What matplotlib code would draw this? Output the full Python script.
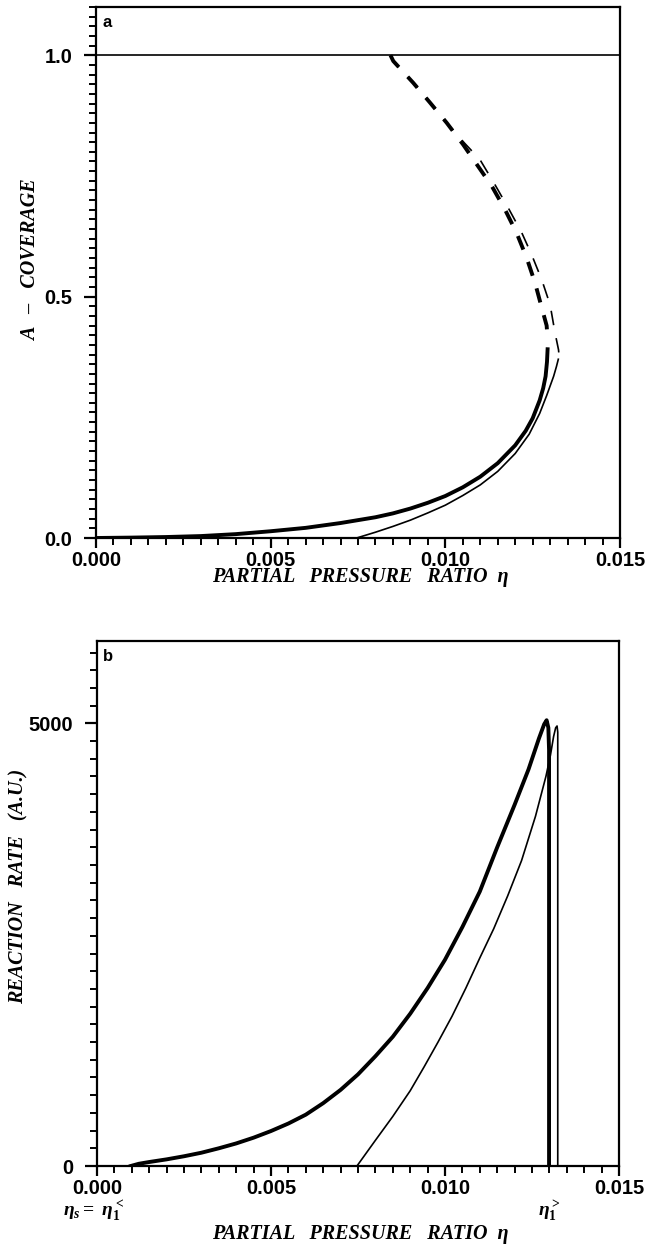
import matplotlib
matplotlib.use("Agg")
import matplotlib.pyplot as plt
from matplotlib.ticker import MultipleLocator

# ---------------- data ----------------
# panel a: A-coverage vs partial pressure ratio
a_thick_solid_x = [0.0, 0.0010, 0.0020, 0.0030, 0.0040, 0.0050, 0.0060, 0.0070, 0.0080, 0.0085,
                   0.0090, 0.0095, 0.0100, 0.0105, 0.0110, 0.0115, 0.0120, 0.0123, 0.0125,
                   0.0127, 0.0128, 0.01287, 0.01291, 0.01293]
a_thick_solid_y = [0.0, 0.0008, 0.002, 0.004, 0.008, 0.014, 0.021, 0.031, 0.043, 0.051,
                   0.061, 0.073, 0.087, 0.105, 0.127, 0.155, 0.192, 0.222, 0.248,
                   0.285, 0.310, 0.335, 0.365, 0.395]
a_thick_dash_x = [0.00843, 0.00851, 0.00908, 0.00956, 0.01004, 0.01051, 0.01090, 0.01133, 0.01171,
                  0.01204, 0.01233, 0.01257, 0.01276, 0.01290, 0.01293]
a_thick_dash_y = [1.0, 0.988, 0.943, 0.902, 0.860, 0.815, 0.774, 0.729, 0.680,
                  0.632, 0.580, 0.528, 0.477, 0.440, 0.410]
a_thin_solid_x = [0.00746, 0.0080, 0.0085, 0.0090, 0.0095, 0.0100, 0.0105, 0.0110, 0.0115,
                  0.0120, 0.0124, 0.0127, 0.0129, 0.0131, 0.01318, 0.01324]
a_thin_solid_y = [0.0, 0.012, 0.024, 0.037, 0.052, 0.068, 0.088, 0.110, 0.138,
                  0.175, 0.215, 0.258, 0.295, 0.335, 0.355, 0.372]
a_thin_dash_x = [0.00843, 0.00851, 0.00908, 0.00956, 0.01004, 0.01055, 0.01099, 0.01142, 0.01180,
                 0.01219, 0.01247, 0.01276, 0.01300, 0.01314, 0.01324, 0.01326]
a_thin_dash_y = [1.0, 0.988, 0.943, 0.902, 0.860, 0.818, 0.784, 0.732, 0.684,
                 0.632, 0.587, 0.535, 0.483, 0.425, 0.390, 0.375]
a_limit_y = 1.0

# panel b: reaction rate vs partial pressure ratio
b_thick_x = [0.00097, 0.0012, 0.0015, 0.0020, 0.0025, 0.0030, 0.0035, 0.0040, 0.0045, 0.0050,
             0.0055, 0.0060, 0.0065, 0.0070, 0.0075, 0.0080, 0.0085, 0.0090, 0.0095, 0.0100,
             0.0105, 0.0110, 0.0115, 0.0120, 0.0124, 0.0127, 0.01285, 0.01292, 0.01297,
             0.01299, 0.01299]
b_thick_y = [0, 25, 45, 75, 110, 150, 200, 255, 320, 395,
             480, 580, 710, 860, 1035, 1240, 1460, 1720, 2010, 2330,
             2700, 3100, 3600, 4080, 4480, 4830, 4990, 5035, 4950,
             4700, 0]
b_thin_x = [0.00747, 0.0080, 0.0085, 0.0090, 0.0094, 0.0098, 0.0102, 0.0106, 0.0110, 0.0114,
            0.0118, 0.0122, 0.0126, 0.0129, 0.01303, 0.01312, 0.01318, 0.01322, 0.01324,
            0.01324]
b_thin_y = [0, 290, 560, 850, 1120, 1400, 1690, 2010, 2350, 2680,
            3050, 3450, 3950, 4400, 4640, 4850, 4950, 4970, 4900,
            0]

x_ticks = [0.000, 0.005, 0.010, 0.015]
x_tick_labels = ["0.000", "0.005", "0.010", "0.015"]
a_y_ticks = [0.0, 0.5, 1.0]
a_y_tick_labels = ["0.0", "0.5", "1.0"]
b_y_ticks = [0, 5000]
b_y_tick_labels = ["0", "5000"]

# ---------------- style ----------------
plt.rcParams['lines.scale_dashes'] = False
plt.rcParams['mathtext.fontset'] = 'custom'
plt.rcParams['mathtext.it'] = 'Liberation Serif:italic:bold'
plt.rcParams['mathtext.rm'] = 'Liberation Serif:bold'
plt.rcParams['mathtext.bf'] = 'Liberation Serif:bold'

TICKFONT = dict(family='Liberation Sans', weight='bold', size=14.5)
LABELFONT = dict(family='Liberation Serif', weight='bold', style='italic', size=14.5)
THICK = 2.8
THIN = 1.2
DASH = (0, (10.5, 9.5))

fig = plt.figure(figsize=(6.45, 12.5), dpi=100)
W, H = 645.0, 1250.0

def axes_px(l, t, r, b):
    return fig.add_axes([l / W, 1 - b / H, (r - l) / W, (b - t) / H])

def style_axes(ax, xminor, yminor):
    for s in ax.spines.values():
        s.set_linewidth(1.6)
    ax.tick_params(axis='both', which='major', direction='out', length=7, width=1.6,
                   top=False, right=False, pad=2)
    ax.tick_params(axis='both', which='minor', direction='out', length=5, width=1.4,
                   top=False, right=False)
    ax.xaxis.set_minor_locator(MultipleLocator(xminor))
    ax.yaxis.set_minor_locator(MultipleLocator(yminor))
    ax.set_xticks(x_ticks)
    ax.set_xticklabels(x_tick_labels, **TICKFONT)
    ax.tick_params(axis='y', which='major', length=9, pad=8)

# ---------------- panel a ----------------
ax1 = axes_px(96, 7, 620, 538)
ax1.set_xlim(0, 0.015)
ax1.set_ylim(0, 1.1)
ax1.axhline(a_limit_y, color='black', lw=1.2)
ax1.plot(a_thin_dash_x, a_thin_dash_y, color='black', lw=THIN, linestyle=DASH,
         dash_capstyle='butt')
ax1.plot(a_thick_dash_x, a_thick_dash_y, color='black', lw=THICK, linestyle=DASH,
         dash_capstyle='butt')
ax1.plot(a_thin_solid_x, a_thin_solid_y, color='black', lw=THIN, solid_capstyle='butt')
ax1.plot(a_thick_solid_x, a_thick_solid_y, color='black', lw=THICK, solid_capstyle='butt')
style_axes(ax1, 0.0005, 0.02)
ax1.set_yticks(a_y_ticks)
ax1.set_yticklabels(a_y_tick_labels, **TICKFONT)
ax1.text(0.012, 0.985, "a", transform=ax1.transAxes, ha='left', va='top',
         family='Liberation Sans', weight='bold', size=12)
fig.text(360 / W, 1 - 577 / H, "PARTIAL   PRESSURE   RATIO  η", ha='center', va='center', **LABELFONT)
fig.text(31 / W, 1 - 260 / H, "A   –   COVERAGE", ha='center', va='center', rotation=90, **LABELFONT)

# ---------------- panel b ----------------
ax2 = axes_px(97, 641, 619, 1166)
ax2.set_xlim(0, 0.015)
ax2.set_ylim(0, 5930)
ax2.plot(b_thin_x, b_thin_y, color='black', lw=THIN)
ax2.plot(b_thick_x, b_thick_y, color='black', lw=THICK)
style_axes(ax2, 0.0005, 200)
ax2.set_yticks(b_y_ticks)
ax2.set_yticklabels(b_y_tick_labels, **TICKFONT)
ax2.text(0.012, 0.985, "b", transform=ax2.transAxes, ha='left', va='top',
         family='Liberation Sans', weight='bold', size=12)
fig.text(94 / W, 1 - 1211 / H, r"$\eta_s = \ \eta_1^<$", ha='center', va='center', size=14)
fig.text(549 / W, 1 - 1211 / H, r"$\eta_1^>$", ha='center', va='center', size=14)
fig.text(360 / W, 1 - 1234 / H, "PARTIAL   PRESSURE   RATIO  η", ha='center', va='center', **LABELFONT)
fig.text(19 / W, 1 - 886 / H, "REACTION   RATE   (A.U.)", ha='center', va='center', rotation=90, **LABELFONT)

fig.savefig("out.png", dpi=100)
